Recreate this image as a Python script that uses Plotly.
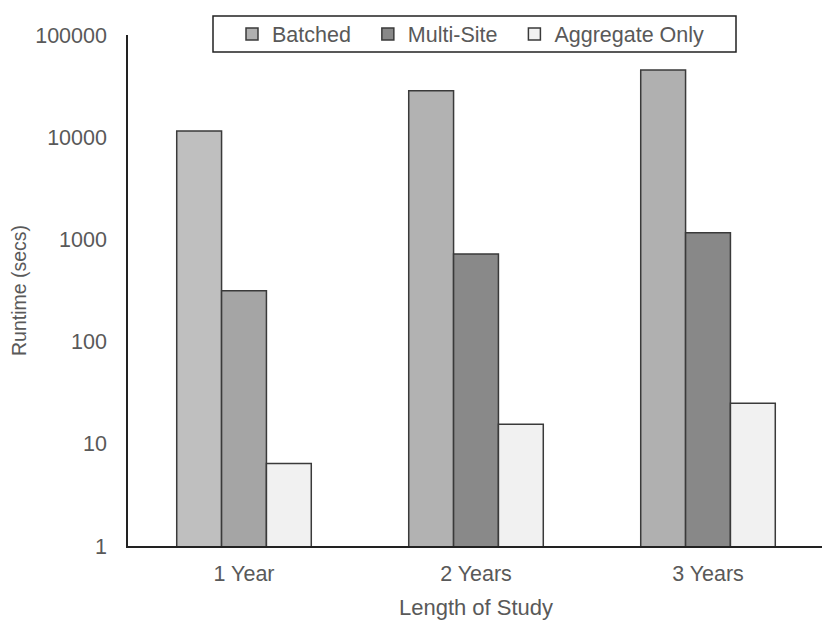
import plotly.graph_objects as go

categories = ["1 Year", "2 Years", "3 Years"]
batched = [11500, 28500, 45500]
multi_site = [315, 720, 1160]
aggregate_only = [6.4, 15.5, 25]

# 1 Year bars are shaded differently from the other groups
batched_colors = ["#BFBFBF", "#B2B2B2", "#B0B0B0"]
multi_colors = ["#A5A5A5", "#898989", "#888888"]
aggregate_colors = ["#F1F1F1", "#F1F1F1", "#F1F1F1"]

nb = "\u00a0"
series = [
    ("Batched", batched, batched_colors, "#B0B0B0", nb * 2),
    ("Multi-Site", multi_site, multi_colors, "#888888", nb * 2),
    ("Aggregate Only", aggregate_only, aggregate_colors, "#F2F2F2", ""),
]

fig = go.Figure()
for name, values, colors, legend_color, pad in series:
    fig.add_trace(go.Bar(
        x=categories, y=values, name=name, offsetgroup=name,
        marker=dict(color=colors, line=dict(color="#3A3A3A", width=1.5)),
        showlegend=False,
    ))
    # legend swatch only, shares the slot of the real trace
    fig.add_trace(go.Bar(
        x=[categories[0]], y=[None], name=name + pad, offsetgroup=name,
        marker=dict(color=legend_color, line=dict(color="#3A3A3A", width=1.5)),
    ))

family = "Liberation Sans, Arial"
grey = "#595959"

# page body adds 8px, so margins are a bit smaller
L, R, T, B = 120, 14, 27, 87
plot_w = 830 - L - R
plot_h = 625 - T - B

fig.update_layout(
    width=830, height=625,
    margin=dict(l=L, r=R, t=T, b=B, autoexpand=False),
    plot_bgcolor="white", paper_bgcolor="white",
    barmode="group", bargap=0.42, bargroupgap=0,
    font=dict(family=family, size=21, color=grey),
    legend=dict(
        orientation="h", x=(224 - L) / plot_w, xanchor="left",
        y=1 + (T - 26) / plot_h, yanchor="middle",
        borderwidth=0, bgcolor="rgba(0,0,0,0)",
        font=dict(family=family, size=21.5, color=grey),
    ),
    xaxis=dict(
        title=dict(text="Length of Study", font=dict(size=22)),
        showline=True, linecolor="#222222", linewidth=1.5,
        ticks="", showgrid=False, automargin=False,
        tickfont=dict(size=21.5), ticklabelstandoff=7,
    ),
    yaxis=dict(
        title=dict(text="Runtime (secs)", font=dict(size=19.5)),
        type="log", range=[0, 5],
        tickvals=[1, 10, 100, 1000, 10000, 100000],
        ticktext=["1", "10", "100", "1000", "10000", "100000"],
        showline=True, linecolor="#222222", linewidth=1.5,
        ticks="", showgrid=False, ticklabelstandoff=15, automargin=False,
        tickfont=dict(size=21.5),
    ),
    # legend frame
    shapes=[dict(
        type="rect", xref="paper", yref="paper",
        x0=(205 - L) / plot_w, x1=(728 - L) / plot_w,
        y0=1 + (T - 44) / plot_h, y1=1 + (T - 8) / plot_h,
        line=dict(color="#222222", width=1.5), fillcolor="white", layer="below",
    )],
)

fig.write_html("out.html")
